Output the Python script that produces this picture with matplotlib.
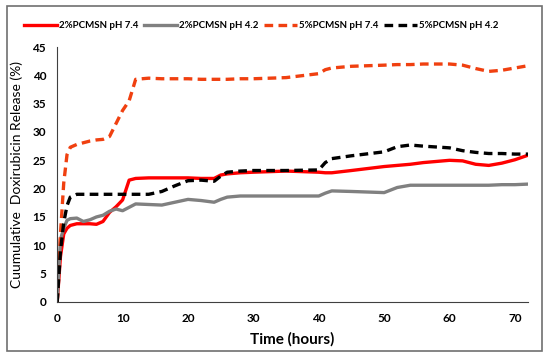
import numpy as np
import matplotlib.pyplot as plt
from matplotlib.patches import Rectangle

plt.rcParams['font.family'] = ['Lato', 'DejaVu Sans']

time_h = [0, 0.5, 1, 1.5, 2, 3, 4, 5, 6, 7, 8, 9, 10, 11, 12, 14, 16, 18, 20, 22, 24, 25, 26, 28, 30,
          35, 40, 41, 42, 45, 50, 52, 54, 56, 60, 62, 64, 66, 68, 70, 72]

pcmsn2_ph74 = [0, 8, 12, 13, 13.5, 13.8, 13.8, 13.8, 13.7, 14.2, 15.8, 16.8, 18, 21.5, 21.8, 21.9, 21.9, 21.9,
               21.9, 21.8, 21.8, 22.4, 22.6, 22.8, 22.9, 23.1, 22.9, 22.8, 22.8, 23.2, 23.9, 24.1, 24.3, 24.6,
               25.0, 24.9, 24.3, 24.1, 24.5, 25.1, 25.9]
pcmsn2_ph42 = [0, 11, 13, 14.4, 14.7, 14.8, 14.2, 14.5, 15, 15.3, 16, 16.4, 16.1, 16.7, 17.3, 17.2, 17.1, 17.6,
               18.1, 17.9, 17.6, 18.1, 18.5, 18.7, 18.7, 18.7, 18.7, 19.2, 19.6, 19.5, 19.3, 20.2, 20.6, 20.6,
               20.6, 20.6, 20.6, 20.6, 20.7, 20.7, 20.8]
pcmsn5_ph74 = [0, 12, 21, 26, 27.3, 27.8, 28.1, 28.4, 28.6, 28.7, 29.2, 31.5, 33.8, 35.5, 39.3, 39.5, 39.4, 39.4,
               39.4, 39.3, 39.3, 39.3, 39.3, 39.4, 39.4, 39.6, 40.3, 41.0, 41.3, 41.6, 41.8, 41.9, 41.9, 42.0,
               42.0, 41.8, 41.2, 40.7, 40.9, 41.3, 41.7]
pcmsn5_ph42 = [0, 9, 14, 17, 18.5, 19, 19, 19, 19, 19, 19, 19, 19, 19, 19, 19, 19.5, 20.5, 21.4, 21.5, 21.3,
               22.2, 22.9, 23.1, 23.2, 23.2, 23.3, 24.6, 25.3, 25.8, 26.5, 27.4, 27.7, 27.5, 27.2, 26.7, 26.4,
               26.2, 26.2, 26.1, 26.1]

fig = plt.figure(figsize=(5.5, 3.59), dpi=100)
ax = fig.add_axes([0.104, 0.159, 0.856, 0.71])

ax.plot(time_h, pcmsn2_ph74, color='#ff0000', lw=2.4, label='2%PCMSN pH 7.4')
ax.plot(time_h, pcmsn2_ph42, color='#808080', lw=2.4, label='2%PCMSN pH 4.2')
ax.plot(time_h, pcmsn5_ph74, color='#f04010', lw=2.4, ls=(0, (2.6, 1.6)), label='5%PCMSN pH 7.4')
ax.plot(time_h, pcmsn5_ph42, color='black', lw=2.4, ls=(0, (2.6, 1.6)), label='5%PCMSN pH 4.2')

ax.set_xlim(0, 72)
ax.set_ylim(0, 45)
ax.set_xticks(np.arange(0, 71, 10))
ax.set_yticks(np.arange(0, 46, 5))
ax.tick_params(length=0, labelsize=8.5, pad=8)
for lab in ax.get_xticklabels() + ax.get_yticklabels():
    lab.set_fontweight('bold')
for s in ['top', 'right']:
    ax.spines[s].set_visible(False)
ax.spines['left'].set_color('#404040')
ax.spines['bottom'].set_color('#404040')

ax.set_xlabel('Time (hours)', fontsize=11, fontweight='bold', labelpad=6)
ax.set_ylabel('Cuumulative  Doxirubicin Release (%)', fontsize=10, labelpad=7)

fig.legend(loc='center', bbox_to_anchor=(0.475, 0.928), ncol=4, frameon=False,
           prop={'size': 7, 'weight': 'bold'}, handlelength=3.4, handletextpad=0.2,
           columnspacing=0.6)

fig.patches.append(Rectangle((0.013, 0.022), 0.972, 0.962, transform=fig.transFigure,
                             fill=False, edgecolor='#707070', lw=1.2))

fig.savefig('out.png', dpi=100)
